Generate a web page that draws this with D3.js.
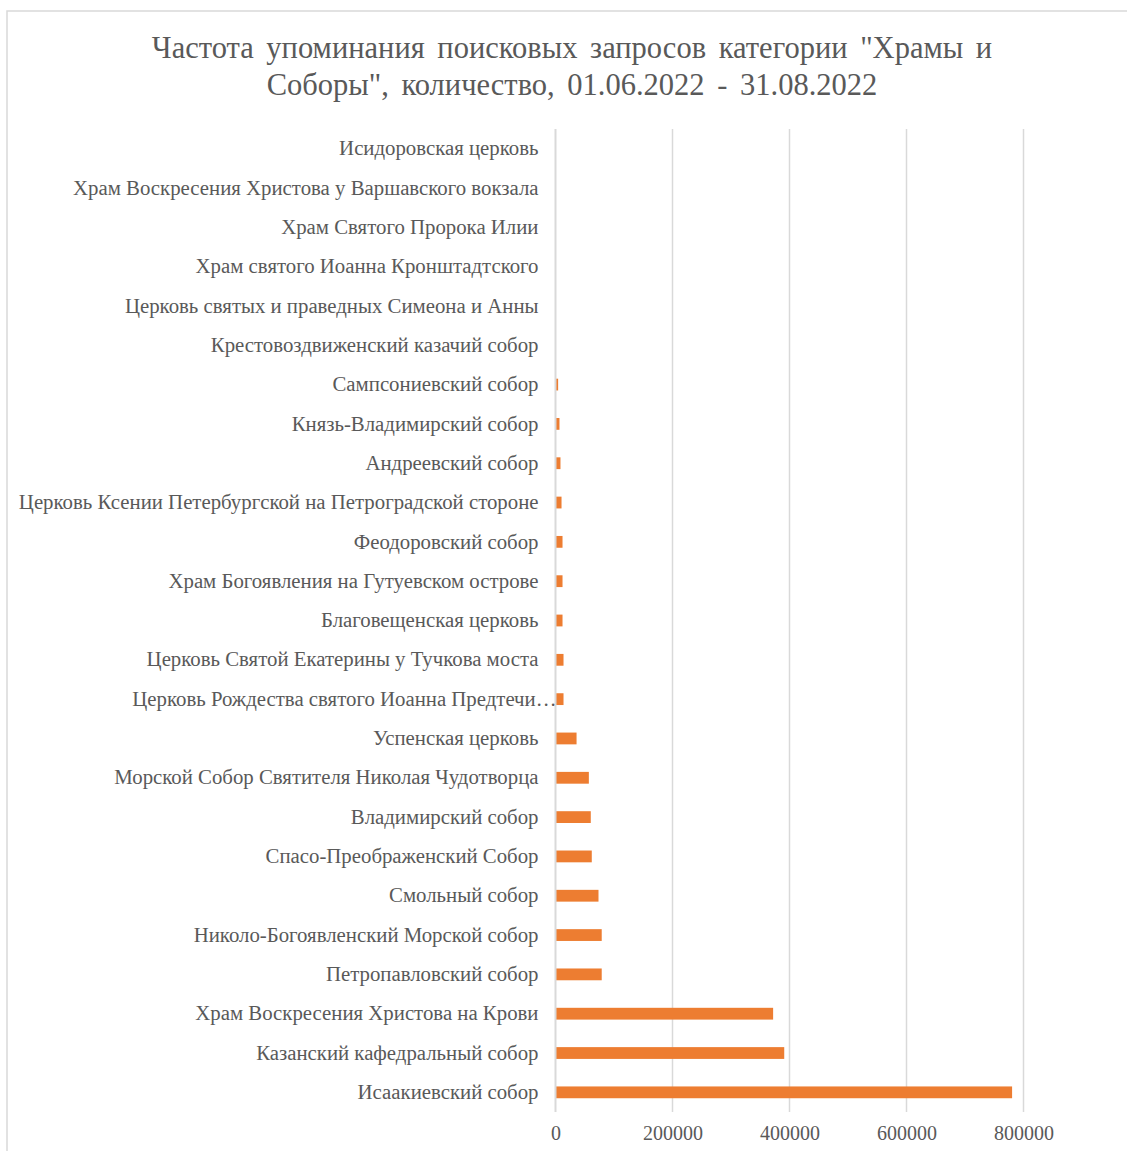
<!DOCTYPE html>
<html><head><meta charset="utf-8">
<script src="https://cdn.jsdelivr.net/npm/d3@7"></script>
<style>body{margin:0;background:#fff;}svg{display:block;}</style>
</head><body>
<svg id="c" width="1127" height="1151"></svg>
<script>
const titleLines = ['Частота упоминания поисковых запросов категории "Храмы и', 'Соборы", количество, 01.06.2022 - 31.08.2022'];
const categories = [
 "Исидоровская церковь",
 "Храм Воскресения Христова у Варшавского вокзала",
 "Храм Святого Пророка Илии",
 "Храм святого Иоанна Кронштадтского",
 "Церковь святых и праведных Симеона и Анны",
 "Крестовоздвиженский казачий собор",
 "Сампсониевский собор",
 "Князь-Владимирский собор",
 "Андреевский собор",
 "Церковь Ксении Петербургской на Петроградской стороне",
 "Феодоровский собор",
 "Храм Богоявления на Гутуевском острове",
 "Благовещенская церковь",
 "Церковь Святой Екатерины у Тучкова моста",
 "Церковь Рождества святого Иоанна Предтечи…",
 "Успенская церковь",
 "Морской Собор Святителя Николая Чудотворца",
 "Владимирский собор",
 "Спасо-Преображенский Собор",
 "Смольный собор",
 "Николо-Богоявленский Морской собор",
 "Петропавловский собор",
 "Храм Воскресения Христова на Крови",
 "Казанский кафедральный собор",
 "Исаакиевский собор"
];
const values = [200, 300, 400, 500, 600, 800, 4500, 6800, 8500, 10300, 12000, 12000, 12000, 13700, 13700,
  36000, 57000, 60300, 62000, 73500, 79000, 79000, 372000, 391000, 780500];
const xTicks = [0, 200000, 400000, 600000, 800000];

const svg = d3.select("#c");
const grey = "#595959";
const font = "'Liberation Serif','Times New Roman',serif";

svg.append("rect").attr("x",7).attr("y",11).attr("width",1140).attr("height",1160)
  .attr("fill","#fff").attr("stroke","#d9d9d9").attr("stroke-width",1.5);

const x = d3.scaleLinear().domain([0, 800000]).range([555.5, 1023.5]);
const y = d3.scaleBand().domain(categories).range([129, 1112]).paddingInner(0.7).paddingOuter(0.35);

// grid
svg.append("g").selectAll("line").data(xTicks.slice(1)).join("line")
  .attr("x1", d => x(d)).attr("x2", d => x(d)).attr("y1", 129).attr("y2", 1112)
  .attr("stroke", "#d9d9d9").attr("stroke-width", 1.5);

// bars
svg.append("g").selectAll("rect").data(values).join("rect")
  .attr("x", x(0)).attr("y", (d,i) => y(categories[i]))
  .attr("width", d => x(d) - x(0)).attr("height", y.bandwidth())
  .attr("fill", "#ED7D31");

// y axis line
svg.append("line").attr("x1", x(0)).attr("x2", x(0)).attr("y1", 129).attr("y2", 1112)
  .attr("stroke", "#d9d9d9").attr("stroke-width", 2);

// category labels
const yAxis = d3.axisLeft(y).tickSize(0).tickPadding(17);
const ga = svg.append("g").attr("transform", `translate(${x(0)},0)`).call(yAxis);
ga.select(".domain").remove();
ga.selectAll("text").attr("font-family", font).attr("font-size", 20.8).attr("fill", grey)
  .attr("dx", d => d.endsWith("…") ? 18 : 0);

// x axis labels
const xAxis = d3.axisBottom(x).tickValues(xTicks).tickSize(0).tickPadding(14).tickFormat(d3.format("d"));
const gx = svg.append("g").attr("transform", `translate(0,1112)`).call(xAxis);
gx.select(".domain").remove();
gx.selectAll("text").attr("font-family", font).attr("font-size", 20).attr("fill", grey);

// title
svg.append("g").selectAll("text").data(titleLines).join("text")
  .attr("x", 572).attr("y", (d,i) => 58 + i*37)
  .attr("text-anchor", "middle").attr("font-family", font).attr("font-size", 30.5)
  .attr("fill", grey).attr("word-spacing", 5).text(d => d);
</script>
</body></html>
